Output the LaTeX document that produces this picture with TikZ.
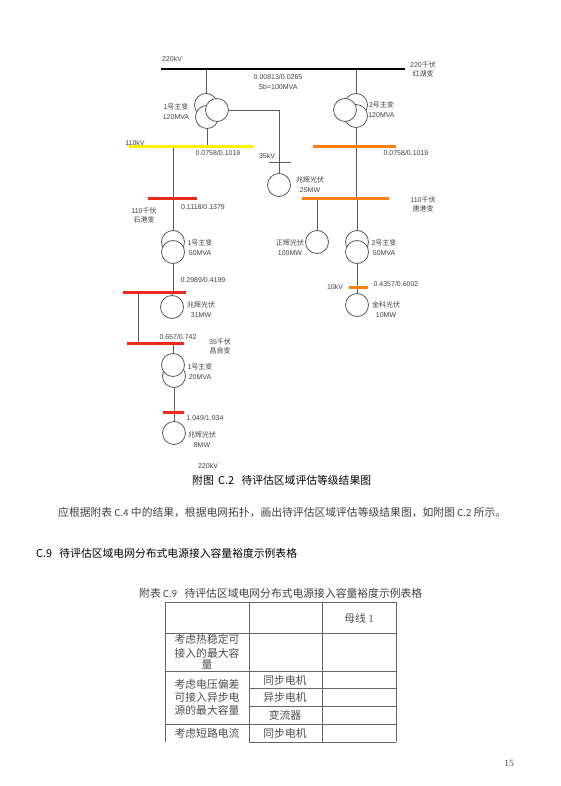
\documentclass[tikz,border=0pt]{standalone}
\usepackage{fontspec}
\usepackage[dvipsnames]{xcolor}
\setmainfont{Liberation Sans}
\newfontfamily\cjk{Noto Sans CJK SC}
\newfontfamily\cali{Carlito}
\newfontfamily\serf{Liberation Serif}
\newcommand{\zh}[1]{{\cjk #1}}
\newcommand{\fwc}{^^^^ff0c}
\definecolor{busorange}{HTML}{FF7F0E}
\definecolor{busred}{HTML}{EE2A1E}
\definecolor{wire}{HTML}{5A5A5A}
\usetikzlibrary{positioning,backgrounds}

\begin{document}
\begin{tikzpicture}[x=1pt, y=-1pt, every node/.style={font=\small}]
\tikzstyle{busbar}=[rectangle, inner sep=0pt, minimum height=3pt]
\tikzstyle{coil}=[circle, draw=wire, line width=0.8pt, fill=white, inner sep=0pt, minimum size=23pt]
\tikzstyle{lbl}=[align=center, inner sep=0pt, text=black!75, font=\fontsize{7}{9.2}\selectfont]
\tikzstyle{body}=[anchor=west, inner sep=0pt, text=black, font=\fontsize{10.8}{13}\selectfont\cjk]
\tikzstyle{cell}=[align=center, inner sep=0pt, text=black!70, font=\fontsize{10.8}{13}\selectfont\cjk]
\tikzstyle{wiring}=[draw=wire, line width=0.8pt]
\tikzstyle{rule}=[draw=black!60, line width=0.9pt]
\useasboundingbox (0,0) rectangle (560,786);
% buses
\node[busbar, fill=black, minimum height=2.2pt, minimum width=244pt] (bush) at (283,69) {};
\node[busbar, fill=yellow, minimum width=125pt] (busy) at (191.5,147) {};
\node[busbar, fill=busorange, minimum width=83pt] (buso) at (354.5,147) {};
\node[busbar, fill=busorange, minimum width=87pt] (busg) at (345.5,199) {};
\node[busbar, fill=busred, minimum width=49pt] (busa) at (172.5,199) {};
\node[busbar, fill=busred, minimum width=63pt] (busb) at (154.5,292) {};
\node[busbar, fill=busred, minimum width=57pt] (busc) at (155.5,343) {};
\node[busbar, fill=busred, minimum width=21pt] (busd) at (173.5,412) {};
\node[busbar, fill=busorange, minimum width=19pt] (buse) at (358.5,287) {};
\node[busbar, fill=wire, minimum height=0.8pt, minimum width=22pt] (barf) at (280,162) {};
% transformers
\node[coil] (tfaa) at (206,105) {};
\node[coil] (tfab) at (207,117) {};
\node[coil] (tfac) at (217,110) {};
\node[coil] (tfba) at (356,105) {};
\node[coil] (tfbb) at (356,116) {};
\node[coil] (tfbc) at (345,110) {};
\node[coil] (tfca) at (173,242) {};
\node[coil] (tfcb) at (173,252) {};
\node[coil] (tfdb) at (174,376) {};
\node[coil] (tfda) at (173,365) {};
\node[coil] (tfea) at (357,242) {};
\node[coil] (tfeb) at (357,252) {};
% generators
\node[coil] (gena) at (279,185) {};
\node[coil] (genb) at (172,307) {};
\node[coil] (genc) at (174,433) {};
\node[coil] (gend) at (317,242) {};
\node[coil] (gene) at (357,305) {};
\coordinate (tap) at (138,292);
% connectors
\begin{scope}[on background layer]
\draw[wiring] (tfaa.north) -- (tfaa.north |- bush);
\draw[wiring] (tfab.south) -- (tfab.south |- busy);
\draw[wiring] (tfac.east) -| (gena.north);
\draw[wiring] (tfba.north) -- (tfba.north |- bush);
\draw[wiring] (tfbb.south) -- (tfbb.south |- busg);
\draw[wiring] (tfca.north) -- (tfca.north |- busy);
\draw[wiring] (tfcb.south) -- (tfcb.south |- busb);
\draw[wiring] (genb.north) -- (genb.north |- busb);
\draw[wiring] (tap) -- (tap |- busc);
\draw[wiring] (tfda.north) -- (tfda.north |- busc);
\draw[wiring] (tfdb.south) -- (genc.north);
\draw[wiring] (gend.north) -- (gend.north |- busg);
\draw[wiring] (tfea.north) -- (tfea.north |- busg);
\draw[wiring] (tfeb.south) -- (gene.north);
\end{scope}
% labels
\node[lbl] (kva) at (172,59) {220kV};
\node[lbl] (sta) at (423,69.5) {220\zh{千伏}\\\zh{红湖变}};
\node[lbl] (imp) at (278,82) {0.00813/0.0265\\Sb=100MVA};
\node[lbl] (mta) at (176,111.5) {1\zh{号主变}\\120MVA};
\node[lbl] (mtb) at (381.5,109.5) {2\zh{号主变}\\120MVA};
\node[lbl] (kvb) at (135,143) {110kV};
\node[lbl] (impa) at (218,153) {0.0758/0.1019};
\node[lbl] (kvc) at (267,156) {35kV};
\node[lbl] (impb) at (406,153) {0.0758/0.1019};
\node[lbl] (pva) at (310,184.5) {\zh{兆辉光伏}\\25MW};
\node[lbl] (stb) at (423,204.5) {110\zh{千伏}\\\zh{唐港变}};
\node[lbl] (impc) at (203,207) {0.1118/0.1379};
\node[lbl] (stc) at (144,215.5) {110\zh{千伏}\\\zh{石港变}};
\node[lbl] (mtc) at (200,247.5) {1\zh{号主变}\\50MVA};
\node[lbl] (pvb) at (290,247.5) {\zh{正辉光伏}\\100MW};
\node[lbl] (mtd) at (384,247.5) {2\zh{号主变}\\50MVA};
\node[lbl] (impd) at (203,280) {0.2989/0.4199};
\node[lbl] (impe) at (396,284) {0.4357/0.6002};
\node[lbl] (kvd) at (335,287) {10kV};
\node[lbl] (pvc) at (201,309.5) {\zh{兆辉光伏}\\31MW};
\node[lbl] (pvd) at (386,309.5) {\zh{金科光伏}\\10MW};
\node[lbl] (impf) at (178,337) {0.657/0.742};
\node[lbl] (std) at (220,346) {35\zh{千伏}\\\zh{昌良变}};
\node[lbl] (mte) at (200,371.5) {1\zh{号主变}\\20MVA};
\node[lbl] (impg) at (205,418) {1.049/1.934};
\node[lbl] (pve) at (202,439.5) {\zh{兆辉光伏}\\8MW};
\node[lbl] (kve) at (208,466) {220kV};
% page text
\node[body] (capa) at (192,480) {附图\hspace{2pt} C.2\hspace{5pt} 待评估区域评估等级结果图};
\node[body, text=black!75] (para) at (58,512) {应根据附表 {\cali C.4} 中的结果\fwc 根据电网拓扑\fwc 画出待评估区域评估等级结果图\fwc 如附图 {\cali C.2} 所示。};
\node[body] (head) at (36,553) {C.9\hspace{5pt} 待评估区域电网分布式电源接入容量裕度示例表格};
\node[body, text=black!75] (capb) at (139,593) {附表 {\cali C.9}\hspace{5pt} 待评估区域电网分布式电源接入容量裕度示例表格};
% table
\foreach \x in {249,322,396}
  \draw[rule] (\x,602) -- (\x,742);
\draw[rule] (165,602) -- (165,742);
\foreach \y in {602,633,671,724}
  \draw[rule] (165,\y) -- (396,\y);
\foreach \y in {688,706,742}
  \draw[rule] (249,\y) -- (396,\y);
\node[cell] (cola) at (359,618) {母线 {\serf 1}};
\node[cell] (rowa) at (207,639) {考虑热稳定可};
\node[cell] (rowb) at (207,653) {接入的最大容};
\node[cell] (rowc) at (207,664) {量};
\node[cell] (rowd) at (207,684) {考虑电压偏差};
\node[cell] (rowe) at (207,697) {可接入异步电};
\node[cell] (rowf) at (207,710) {源的最大容量};
\node[cell] (rowg) at (207,733) {考虑短路电流};
\node[cell] (typa) at (285,680) {同步电机};
\node[cell] (typb) at (285,697) {异步电机};
\node[cell] (typc) at (285,715) {变流器};
\node[cell] (typd) at (285,733) {同步电机};
\node[cell, font=\fontsize{9.5}{11}\selectfont\serf] (page) at (509,763) {15};
\end{tikzpicture}
\end{document}
